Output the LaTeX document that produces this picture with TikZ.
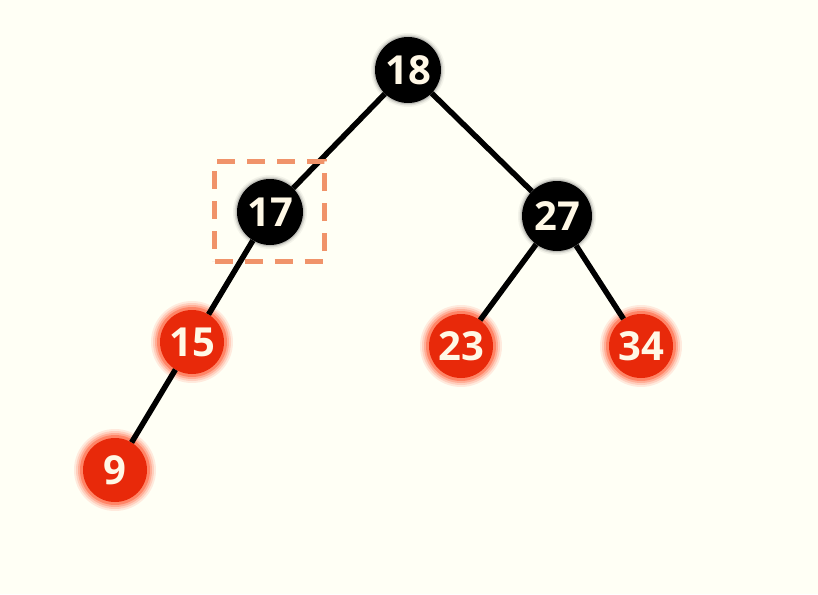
\documentclass[tikz,border=0pt]{standalone}
\usepackage{fontspec}
\setmainfont{Open Sans}
\definecolor{bg}{HTML}{FFFFF5}
\definecolor{rednode}{HTML}{E8290A}
\definecolor{glowred}{HTML}{FF3A10}
\definecolor{txt}{HTML}{FFF8E6}
\definecolor{dashor}{HTML}{F0936A}
\begin{document}
\begin{tikzpicture}[x=1pt,y=-1pt,
  edge/.style={line width=5.5pt,black},
  blk/.style={circle,fill=black,minimum size=66pt,inner sep=0pt,text=txt,font=\fontsize{40}{40}\selectfont\bfseries},
  rd/.style={circle,fill=rednode,minimum size=64pt,inner sep=0pt,text=txt,font=\fontsize{40}{40}\selectfont\bfseries},
]
\fill[bg] (0,0) rectangle (818,594);
\useasboundingbox (0,0) rectangle (818,594);
% glows
\foreach \x/\y in {192/342,461/346,641/346,115/470}{
  \foreach \r/\o in {41/0.1,39/0.15,37/0.22,35/0.35}{
    \fill[glowred,opacity=\o] (\x,\y) circle (\r);
  }
}
\foreach \x/\y/\s in {408/70/33,270/212/33,557/216/35}{
  \foreach \d/\o in {4/0.08,2.5/0.15,1.2/0.25}{
    \fill[black!60,opacity=\o] (\x,\y) circle ({\s+\d});
  }
}
\node[blk] (n18) at (408,70) {18};
\node[blk] (n17) at (270,212) {17};
\node[blk,minimum size=70pt] (n27) at (557,216) {27};
\node[rd] (n15) at (192,342) {15};
\node[rd] (n23) at (461,346) {23};
\node[rd] (n34) at (641,346) {34};
\node[rd] (n9) at (115,470) {9};
\draw[edge] (n18) -- (n17);
\draw[edge] (n18) -- (n27);
\draw[edge] (n17) -- (n15);
\draw[edge] (n15) -- (n9);
\draw[edge] (n27) -- (n23);
\draw[edge] (n27) -- (n34);
\node[draw=dashor,line width=5pt,dash pattern=on 18pt off 12pt,minimum width=110pt,minimum height=100pt,inner sep=0pt] (sel) at (269.5,211) {};
\end{tikzpicture}
\end{document}
